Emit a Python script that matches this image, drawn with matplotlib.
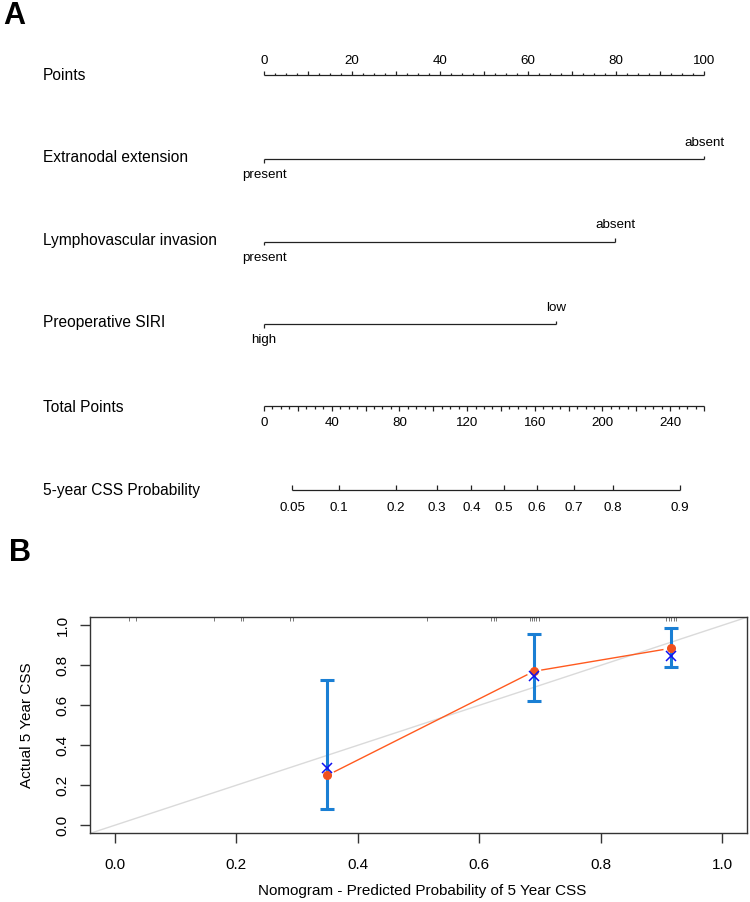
import numpy as np
import matplotlib
matplotlib.use('Agg')
import matplotlib.pyplot as plt

plt.rcParams['font.family'] = ['Liberation Sans', 'DejaVu Sans']

# ---- nomogram data ----
row_names = ['Points', 'Extranodal extension', 'Lymphovascular invasion',
             'Preoperative SIRI', 'Total Points', '5-year CSS Probability']
factor_levels = [['present', 'absent'], ['present', 'absent'], ['high', 'low']]
factor_points = [[0, 100], [0, 79.8], [0, 66.4]]
total_max = 260
prob_labels = ['0.05', '0.1', '0.2', '0.3', '0.4', '0.5', '0.6', '0.7', '0.8', '0.9']
prob_total_points = [16.7, 44.5, 77.8, 102.2, 122.5, 142.0, 161.3, 183.3, 206.0, 245.8]

# ---- calibration data ----
predicted = [0.35, 0.69, 0.915]
observed = [0.25, 0.77, 0.885]
corrected = [0.287, 0.748, 0.845]
ci_low = [0.083, 0.622, 0.792]
ci_high = [0.728, 0.957, 0.985]
rug = [0.023, 0.036, 0.163, 0.208, 0.212, 0.288, 0.293, 0.514, 0.620, 0.624,
       0.627, 0.683, 0.687, 0.690, 0.694, 0.698, 0.908, 0.912, 0.916, 0.920, 0.924]

W, H = 750, 902
fig = plt.figure(figsize=(W / 100, H / 100), dpi=100)

# top panel: x in points, y in pixel rows
top_h = 520
ax = fig.add_axes([0, (H - top_h) / H, 1, top_h / H])
px = 4.4  # pixels per point
ax.set_xlim(-264 / px, (W - 264) / px)
ax.set_ylim(top_h, 0)
ax.axis('off')

name_fs = 11.2
lab_fs = 9.6
lc = '#222222'
lw = 0.9
row_y = [75, 158, 241, 323, 407, 490]
for name, y in zip(row_names, row_y):
    ax.text(43 / px - 264 / px, y, name, fontsize=name_fs, va='center', ha='left')

# points scale
y = 75
ax.hlines(y, 0, 100, color=lc, lw=lw)
for t in np.arange(0, 100.01, 2.5):
    ln = 4.5 if t % 10 == 0 else 2.5
    ax.vlines(t, y - ln, y, color=lc, lw=lw)
for t in range(0, 101, 20):
    ax.text(t, 61, str(t), fontsize=lab_fs, ha='center', va='center')

# factor rows
for levels, pts, y in zip(factor_levels, factor_points, [159, 241.5, 324]):
    ax.hlines(y, pts[0], pts[1], color=lc, lw=lw)
    ax.vlines(pts[0], y, y + 3.5, color=lc, lw=lw)
    ax.vlines(pts[1], y - 3.5, y, color=lc, lw=lw)
    ax.text(pts[0], y + 16, levels[0], fontsize=lab_fs, ha='center', va='center')
    ax.text(pts[1], y - 16, levels[1], fontsize=lab_fs, ha='center', va='center')

# total points scale
y = 406
sc = 100 / total_max
ax.hlines(y, 0, total_max * sc, color=lc, lw=lw)
for t in np.arange(0, total_max + 0.01, 5):
    ln = 4.5 if t % 20 == 0 else 2.5
    ax.vlines(t * sc, y, y + ln, color=lc, lw=lw)
for t in range(0, 241, 40):
    ax.text(t * sc, 423, str(t), fontsize=lab_fs, ha='center', va='center')

# probability scale
y = 490
xs = [p * sc for p in prob_total_points]
ax.hlines(y, xs[0], xs[-1], color=lc, lw=lw)
for xv, lab in zip(xs, prob_labels):
    ax.vlines(xv, y - 5, y, color=lc, lw=lw)
    ax.text(xv, 508, lab, fontsize=lab_fs, ha='center', va='center')

fig.text(3 / W, 1 - 1 / H, 'A', fontsize=22, fontweight='bold', va='top', ha='left')
fig.text(9 / W, 1 - 538 / H, 'B', fontsize=22, fontweight='bold', va='top', ha='left')

# ---- calibration panel ----
l, r, t_, b = 90.3, 746.7, 617.3, 833.3
cx = fig.add_axes([l / W, (H - b) / H, (r - l) / W, (b - t_) / H])
cx.set_xlim(-0.04, 1.04)
cx.set_ylim(-0.04, 1.04)
for s in cx.spines.values():
    s.set_color('#333333')
    s.set_linewidth(1)
cx.axline((0, 0), (1, 1), color='#DADADA', lw=1, zorder=1)

ticks = [0.0, 0.2, 0.4, 0.6, 0.8, 1.0]
cx.set_xticks(ticks)
cx.set_yticks(ticks)
cx.set_xticklabels(['%.1f' % v for v in ticks])
cx.set_yticklabels(['%.1f' % v for v in ticks])
cx.tick_params(axis='both', length=7, width=1, color='#333333', labelsize=11)
cx.tick_params(axis='x', pad=11)
cx.tick_params(axis='y', pad=8, labelrotation=90)
for lbl in cx.get_yticklabels():
    lbl.set_va('center')

cx.vlines(rug, 0.985, 1.0, transform=cx.get_xaxis_transform(), color='#777777', lw=0.7)

err_c = '#1A7FD4'
cx.errorbar(predicted, observed,
            yerr=[np.array(observed) - np.array(ci_low), np.array(ci_high) - np.array(observed)],
            fmt='none', ecolor=err_c, elinewidth=2.2, capsize=5, capthick=2.2, zorder=3)

# line between observed points with small gaps (like R type='b')
tr = cx.transData
disp = tr.transform(np.column_stack([predicted, observed]))
gap = 8
for i in range(len(disp) - 1):
    p, q = disp[i], disp[i + 1]
    d = q - p
    u = d / np.hypot(*d)
    seg = tr.inverted().transform(np.array([p + u * gap, q - u * gap]))
    cx.plot(seg[:, 0], seg[:, 1], color='#FF5A1F', lw=1, zorder=4)

cx.plot(predicted, observed, 'o', color='#F0501E', ms=5.5, zorder=5)
cx.plot(predicted, corrected, 'x', color='#1010F0', ms=7, mew=1.1, zorder=6)

cx.set_xlabel('Nomogram - Predicted Probability of 5 Year CSS', fontsize=11, va='center')
cx.set_ylabel('Actual 5 Year CSS', fontsize=11, va='center')
cx.xaxis.set_label_coords(0.505, (b - 891) / (b - t_))
cx.yaxis.set_label_coords((27 - l) / (r - l), 0.5)

fig.savefig('out.png', dpi=100)
